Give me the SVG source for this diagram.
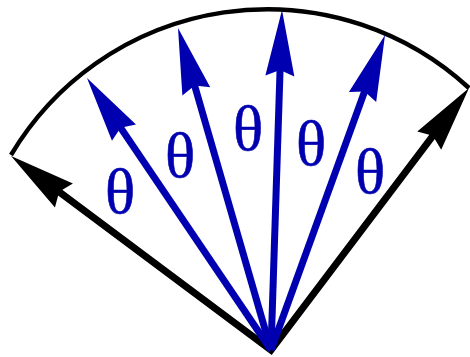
<svg xmlns="http://www.w3.org/2000/svg" width="470" height="357" viewBox="0 0 470 357">
  <style>
    .arc { fill: none; stroke: #000; stroke-width: 4.5; }
    .black { fill: none; stroke: #000; stroke-width: 7; stroke-linejoin: miter; stroke-miterlimit: 10; }
    .blue { fill: none; stroke: #0000B0; stroke-width: 7; }
    .lbl { font-family: "Liberation Serif", "Times New Roman", serif; font-size: 63px; fill: #0000B0; stroke: #0000B0; stroke-width: 0.6; text-anchor: middle; }
  </style>
  <defs>
    <marker id="headBlack" markerUnits="userSpaceOnUse" orient="auto-start-reverse" markerWidth="10" markerHeight="10" refX="0" refY="0" overflow="visible">
      <path d="M40,0 L-26,-15 L-20,0 L-26,15 Z" fill="#000"/>
    </marker>
    <marker id="headBlue" markerUnits="userSpaceOnUse" orient="auto" markerWidth="10" markerHeight="10" refX="0" refY="0" overflow="visible">
      <path d="M40,0 L-26,-14.5 L-20,0 L-26,14.5 Z" fill="#0000B0"/>
    </marker>
  </defs>

  <g id="arc">
    <path class="arc" d="M 11 155 A 298 298 0 0 1 469 88"/>
  </g>

  <g id="connectors">
    <path id="black-arrows" class="black" d="M 43.1 179.9 L 271 350 L 444.9 119.9" marker-start="url(#headBlack)" marker-end="url(#headBlack)"/>
    <line id="blue1" class="blue" x1="271" y1="350" x2="109.4" y2="111.1" marker-end="url(#headBlue)"/>
    <line id="blue2" class="blue" x1="271" y1="350" x2="189.1" y2="66.4" marker-end="url(#headBlue)"/>
    <line id="blue3" class="blue" x1="271" y1="350" x2="280.7" y2="50.0" marker-end="url(#headBlue)"/>
    <line id="blue4" class="blue" x1="271" y1="350" x2="371.4" y2="72.6" marker-end="url(#headBlue)"/>
  </g>

  <g id="labels">
    <text id="theta1" class="lbl" x="120" y="213">θ</text>
    <text id="theta2" class="lbl" x="180" y="177">θ</text>
    <text id="theta3" class="lbl" x="248" y="150">θ</text>
    <text id="theta4" class="lbl" x="311" y="165">θ</text>
    <text id="theta5" class="lbl" x="370" y="193">θ</text>
  </g>
</svg>
